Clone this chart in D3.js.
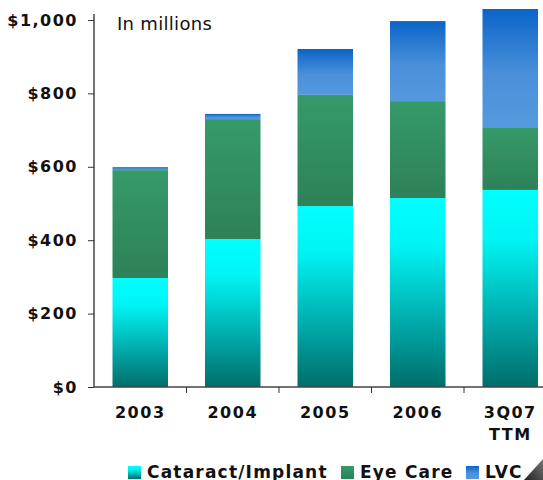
<!DOCTYPE html>
<html>
<head>
<meta charset="utf-8">
<script src="https://cdn.jsdelivr.net/npm/d3@7"></script>
<style>
  body { margin: 0; background: #fff; }
  svg { display: block; }
  text { font-family: "DejaVu Sans", Verdana, sans-serif; }
</style>
</head>
<body>
<div id="chart"></div>
<script>
var w = 543, h = 480;
var margin = {left: 94, top: 20, bottom: 93}; // plot from y=20 to y=387

// data (in $ millions)
var years = ["2003", "2004", "2005", "2006", "3Q07 TTM"];
var cataract = [297, 403, 493, 515, 537];
var eyeCare = [294, 327, 303, 264, 171];
var lvc = [8, 14, 125, 218, 322];
var seriesNames = ["Cataract/Implant", "Eye Care", "LVC"];
var yTicks = [0, 200, 400, 600, 800, 1000];

var svg = d3.select("#chart").append("svg")
    .attr("width", w)
    .attr("height", h);

// gradients, one per series (top colour -> bottom colour)
var defs = svg.append("defs");
var grads = [
  {id: "gCat", stops: [[0, "#00ffff"], [0.25, "#00f4f4"], [0.75, "#009a9a"], [1, "#006e6a"]]},
  {id: "gEye", stops: [[0, "#359a6a"], [1, "#2e8158"]]},
  {id: "gLvc", stops: [[0, "#0a64c8"], [0.55, "#4a90da"], [1, "#5599dd"]]}
];
grads.forEach(function(g) {
  var lg = defs.append("linearGradient").attr("id", g.id)
      .attr("x1", 0).attr("y1", 0).attr("x2", 0).attr("y2", 1);
  g.stops.forEach(function(s) {
    lg.append("stop").attr("offset", s[0]).attr("stop-color", s[1]);
  });
});
var corner = defs.append("linearGradient").attr("id", "gCorner")
    .attr("x1", 0).attr("y1", 1).attr("x2", 1).attr("y2", 0);
corner.append("stop").attr("offset", 0).attr("stop-color", "#222");
corner.append("stop").attr("offset", 1).attr("stop-color", "#777");

var x = d3.scaleBand()
    .domain(years)
    .range([margin.left, margin.left + 5 * 92.5])
    .paddingInner(0.4)
    .paddingOuter(0.2);

var y = d3.scaleLinear()
    .domain([0, 1000])
    .range([h - margin.bottom, margin.top]);

var rows = years.map(function(yr, i) {
  return {year: yr, cat: cataract[i], eye: eyeCare[i], lvc: lvc[i]};
});
var stack = d3.stack().keys(["cat", "eye", "lvc"])(rows);
var fills = ["url(#gCat)", "url(#gEye)", "url(#gLvc)"];

svg.selectAll("g.layer")
  .data(stack)
  .enter().append("g")
    .attr("class", "layer")
    .attr("fill", function(d, i) { return fills[i]; })
  .selectAll("rect")
  .data(function(d) { return d; })
  .enter().append("rect")
    .attr("x", function(d) { return x(d.data.year); })
    .attr("width", x.bandwidth())
    .attr("y", function(d) { return y(d[1]); })
    .attr("height", function(d) { return y(d[0]) - y(d[1]); });

// y axis
var yAxis = svg.append("g")
    .attr("transform", "translate(" + margin.left + ",0)")
    .call(d3.axisLeft(y).tickValues(yTicks).tickSize(6).tickPadding(10)
      .tickFormat(function(d) { return "$" + d3.format(",")(d); }));
yAxis.select(".domain").attr("d", "M0,14V" + y(0)).attr("stroke", "#444").attr("stroke-width", 1.5);
yAxis.selectAll(".tick line").attr("stroke", "#333");
yAxis.selectAll(".tick text")
    .attr("font-family", "'DejaVu Sans', Verdana, sans-serif")
    .attr("font-size", 16)
    .attr("letter-spacing", 1.5)
    .attr("font-weight", "bold")
    .attr("fill", "#111");

// x axis: ticks on band boundaries
var xAxisG = svg.append("g");
xAxisG.append("line")
    .attr("x1", margin.left).attr("x2", w)
    .attr("y1", y(0)).attr("y2", y(0))
    .attr("stroke", "#444").attr("stroke-width", 1.5);
var step = x.step();
xAxisG.selectAll("line.tk")
  .data(years)
  .enter().append("line")
    .attr("class", "tk")
    .attr("x1", function(d) { return x(d) + x.bandwidth() / 2 + step / 2; })
    .attr("x2", function(d) { return x(d) + x.bandwidth() / 2 + step / 2; })
    .attr("y1", y(0)).attr("y2", y(0) + 6)
    .attr("stroke", "#333");

xAxisG.selectAll("text.lbl")
  .data(years)
  .enter().append("text")
    .attr("class", "lbl")
    .attr("text-anchor", "middle")
    .attr("font-size", 16)
    .attr("letter-spacing", 1.5)
    .attr("font-weight", "bold")
    .attr("fill", "#111")
    .each(function(d) {
      var parts = d.split(" ");
      var t = d3.select(this);
      parts.forEach(function(p, j) {
        t.append("tspan")
          .attr("x", x(d) + x.bandwidth() / 2)
          .attr("y", 418 + j * 22)
          .text(p);
      });
    });

svg.append("text")
    .attr("x", 117).attr("y", 30)
    .attr("font-size", 18)
    .attr("letter-spacing", 0.3)
    .attr("fill", "#111")
    .text("In millions");

// legend
var legX = [128, 341, 466];
var legend = svg.selectAll("g.leg")
  .data(seriesNames)
  .enter().append("g")
    .attr("class", "leg")
    .attr("transform", function(d, i) { return "translate(" + legX[i] + ",0)"; });
legend.append("rect")
    .attr("x", 0).attr("y", 466).attr("width", 13).attr("height", 13)
    .attr("fill", function(d, i) { return fills[i]; });
legend.append("text")
    .attr("x", 19).attr("y", 478)
    .attr("font-size", 17)
    .attr("letter-spacing", 1.2)
    .attr("font-weight", "bold")
    .attr("fill", "#111")
    .text(function(d) { return d; });

// page corner
svg.append("polygon")
    .attr("points", "524,480 543,459 543,480")
    .attr("fill", "url(#gCorner)");
</script>
</body>
</html>
